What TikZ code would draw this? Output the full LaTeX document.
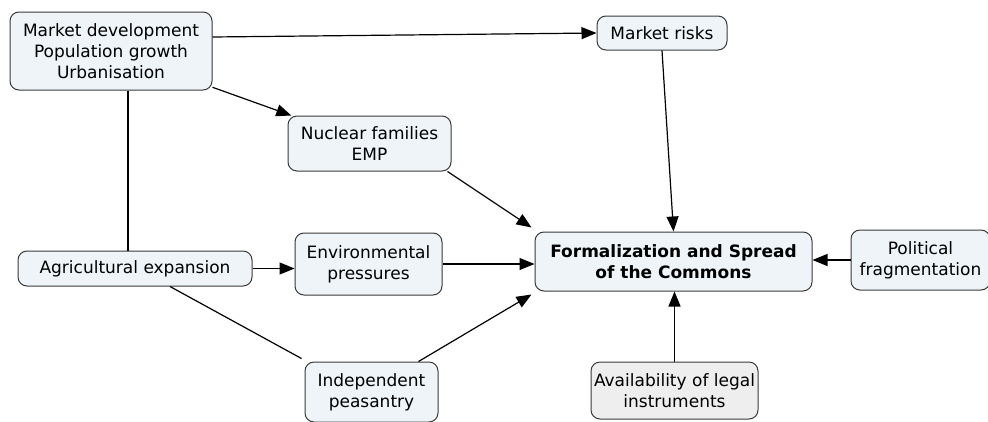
\documentclass[tikz,border=0pt]{standalone}
\usepackage{fontspec}
\setmainfont{DejaVu Sans}
\usepackage{xcolor}
\usetikzlibrary{arrows.meta}
\definecolor{conceptfill}{HTML}{EEF4F7}
\definecolor{sourcefill}{HTML}{EEEEEE}
\definecolor{conceptdraw}{HTML}{3A3A3A}
\tikzstyle{concept} = [rectangle, draw=conceptdraw, fill=conceptfill,
    line width=1pt, rounded corners=9pt, align=center, inner sep=2pt,
    font=\fontsize{17}{21}\selectfont]
\tikzstyle{line} = [draw, line width=1.2pt, -{Triangle[length=15pt,width=12pt]}]
\tikzstyle{edge} = [draw, line width=1.2pt]

\begin{document}
\begin{tikzpicture}[x=1pt, y=-1pt]
  \useasboundingbox (0,0) rectangle (988,421);
  \clip (0,0) rectangle (988,421);
  % Place nodes
  \node [concept, minimum width=202pt, minimum height=78pt] (market) at (111,51)
    {Market development\\Population growth\\Urbanisation};
  \node [concept, minimum width=130pt, minimum height=34pt] (risks) at (662,33) {Market risks};
  \node [concept, minimum width=163pt, minimum height=55pt] (nuclear) at (369.5,143.5)
    {Nuclear families\\EMP};
  \node [concept, minimum width=234pt, minimum height=35pt] (agri) at (135,268.5)
    {Agricultural expansion};
  \node [concept, minimum width=147pt, minimum height=62pt] (env) at (368.5,264)
    {Environmental\\pressures};
  \node [concept, minimum width=277pt, minimum height=59pt,
    font=\fontsize{17}{21}\selectfont\bfseries] (commons) at (673.5,261.5)
    {Formalization and Spread\\of the Commons};
  \node [concept, minimum width=139pt, minimum height=60pt] (political) at (920.5,260)
    {Political\\fragmentation};
  \node [concept, minimum width=133pt, minimum height=60pt] (peasantry) at (371.5,392)
    {Independent\\peasantry};
  \node [concept, fill=sourcefill, minimum width=167pt, minimum height=57pt] (legal) at (674.5,390.5)
    {Availability of legal\\instruments};

  % Connectors
  \path [line] ([yshift=14pt]market.east) -- (risks.west);
  \path [line] (market) -- (nuclear);
  \path [edge] ([xshift=17pt]market.south) -- ([xshift=-7pt]agri.north);
  \path [line] (risks.south) -- (commons.north);
  \path [line] ([xshift=-4pt]nuclear.south east) -- ([xshift=-3pt,yshift=4pt]commons.north west);
  \path [line] (agri.east) -- (agri.east -| env.west);
  \path [line] (env.east) -- (env.east -| commons.west);
  \path [edge] ([xshift=35pt]agri.south) -- ([xshift=-3pt,yshift=3pt]peasantry.north west);
  \path [line] ([xshift=-20pt]peasantry.north east) -- ([xshift=-3pt,yshift=-3pt]commons.south west);
  \path [line] (legal.north) -- (legal.north |- commons.south);
  \path [line] (political.west) -- (political.west -| commons.east);
\end{tikzpicture}
\end{document}
